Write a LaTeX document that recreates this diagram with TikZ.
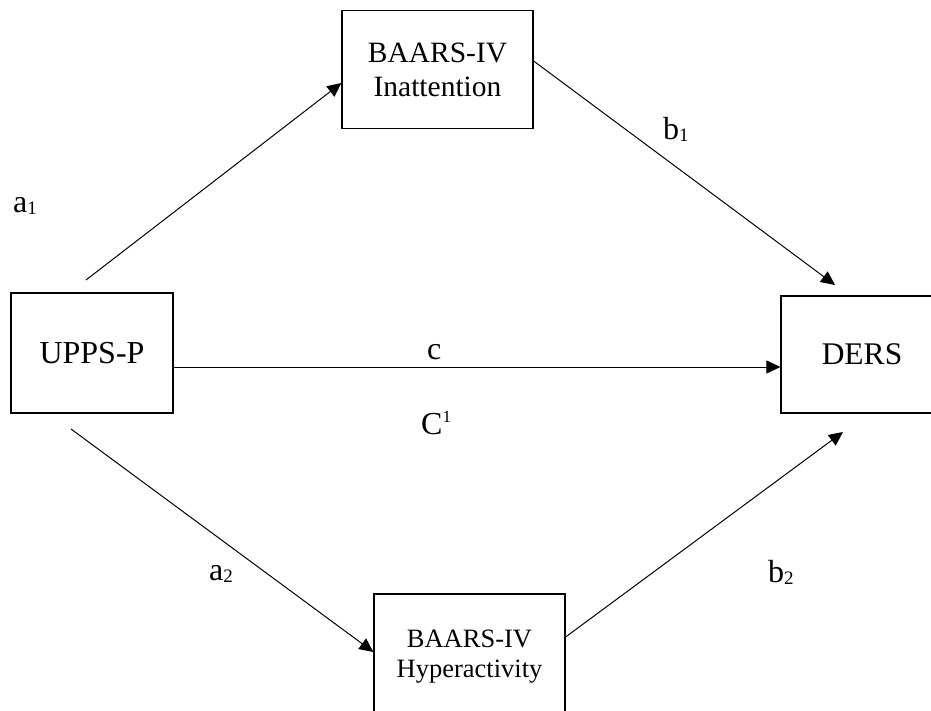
\documentclass[tikz,border=0pt]{standalone}
\usepackage{fontspec}
\setmainfont{Liberation Serif}
\usetikzlibrary{arrows.meta}

\newcommand{\lowidx}[1]{\raisebox{-2pt}{\fontsize{19}{19}\selectfont #1}}
\newcommand{\upidx}[1]{\raisebox{12pt}{\fontsize{17}{17}\selectfont #1}}

\begin{document}
\begin{tikzpicture}[x=1pt,y=-1pt,
        box/.style={draw,line width=1.2pt,inner sep=0pt,align=center},
        link/.style={line width=1pt,-{Triangle[length=14pt,width=13pt]}},
        lbl/.style={anchor=base west,inner sep=0pt,font=\fontsize{32}{38}\selectfont}]
        \clip (0,0) rectangle (931,711);

        \node[box,minimum width=191pt,minimum height=118pt,font=\fontsize{29.5}{34}\selectfont] (inatt) at (437.5,69.5) {BAARS-IV\\Inattention};
        \node[box,minimum width=162pt,minimum height=120pt,font=\fontsize{32}{38}\selectfont] (upps) at (92,353) {UPPS-P};
        \node[box,minimum width=162pt,minimum height=117pt,font=\fontsize{31.5}{38}\selectfont] (ders) at (862,354.5) {DERS};
        \node[box,minimum width=191pt,minimum height=126pt,font=\fontsize{26.5}{30}\selectfont] (hyper) at (469.5,657) {BAARS-IV\\Hyperactivity};

        \coordinate (a1from) at (86,280);
        \coordinate (b1to) at (835,285);
        \coordinate (a2from) at (71,429);
        \coordinate (b2to) at (843,432);
        \coordinate (cfrom) at ([yshift=-14pt]upps.east);

        \draw[link] (a1from) -- ([yshift=-13.5pt]inatt.west);
        \draw[link] ([yshift=8.5pt]inatt.east) -- (b1to);
        \draw[link] (cfrom) -- (cfrom -| ders.west);
        \draw[link] (a2from) -- ([yshift=5pt]hyper.west);
        \draw[link] ([yshift=20pt]hyper.east) -- (b2to);

        \node[lbl] (la1) at (13,213) {a\lowidx{1}};
        \node[lbl] (lb1) at (663,140) {b\lowidx{1}};
        \node[lbl] (lc) at (427,359) {c};
        \node[lbl] (lc1) at (421,434) {C\upidx{1}};
        \node[lbl] (la2) at (209,580) {a\lowidx{2}};
        \node[lbl] (lb2) at (768,582) {b\lowidx{2}};
\end{tikzpicture}
\end{document}
